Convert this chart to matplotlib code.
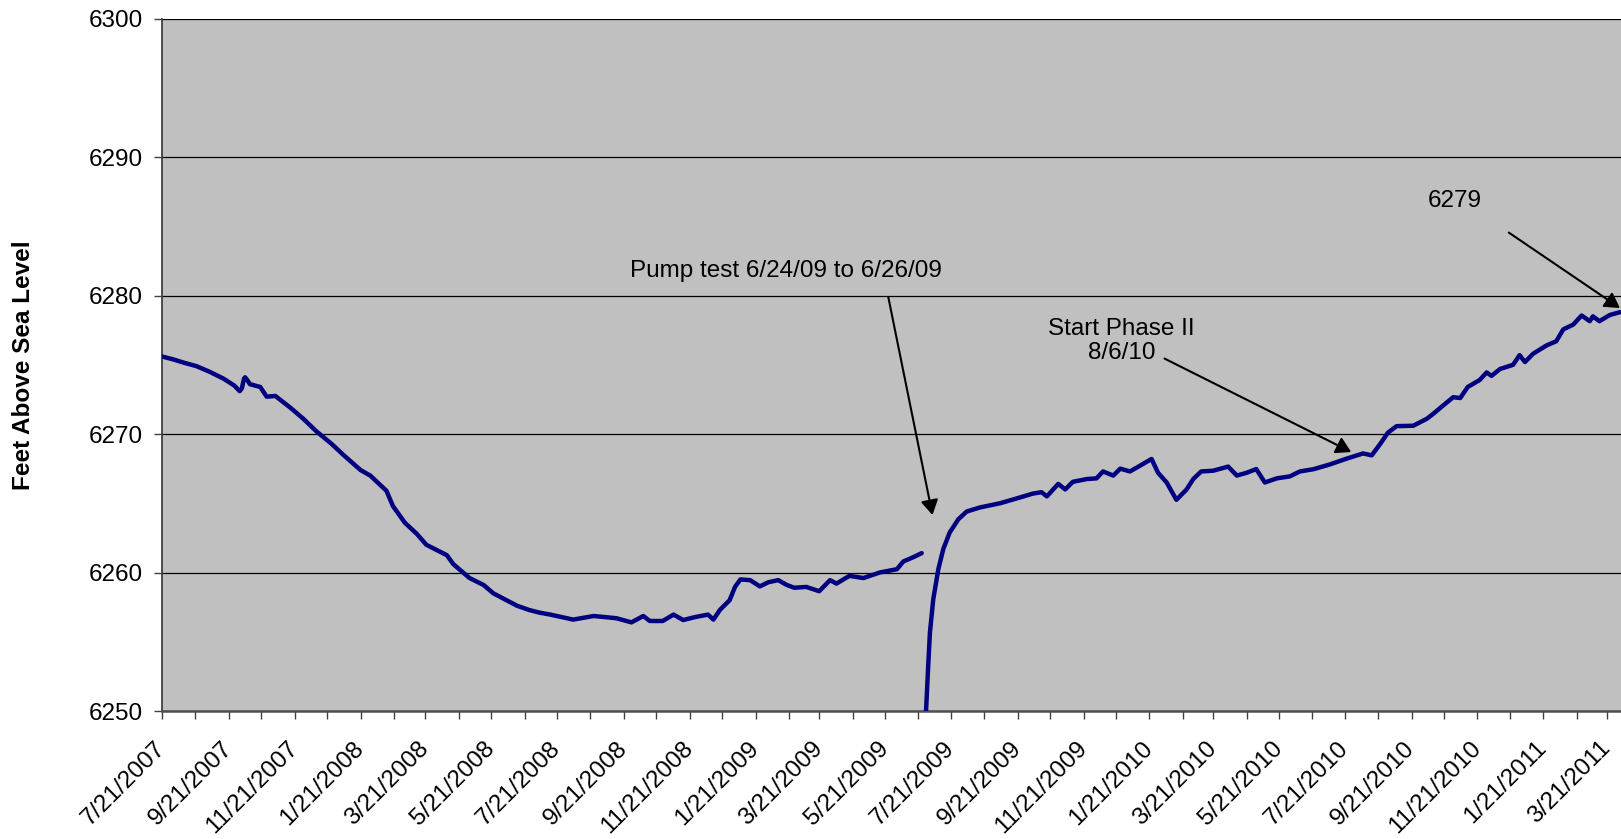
import matplotlib
matplotlib.use('Agg')
import matplotlib.pyplot as plt
import matplotlib.dates as mdates
from matplotlib.ticker import FuncFormatter
from datetime import datetime, timedelta

plt.rcParams['font.family'] = ['Liberation Sans', 'DejaVu Sans']

# ---------------- data ----------------
start_date = datetime(2007, 7, 21)
end_date = datetime(2011, 4, 3)

# water level before the pump test: days after 7/21/2007, feet above sea level
pre_days = [0, 10, 20, 32, 44, 57, 67, 72, 74, 76, 77, 79, 81.5, 91, 97, 105, 119,
            131, 143, 157, 168, 184, 193, 208, 214, 225, 236, 245, 264, 270, 285,
            298, 307, 329, 340, 350, 360, 381, 400, 421, 435, 446, 452, 464, 474,
            483, 495, 506, 511, 517, 526, 531, 536, 545, 554, 562, 571, 579, 586,
            597, 609, 619, 625, 637, 650, 665, 681, 687, 696, 704]
pre_level = [6275.6, 6275.4, 6275.16, 6274.9, 6274.5, 6274.0, 6273.5, 6273.1, 6273.3,
             6274.0, 6274.1, 6273.9, 6273.6, 6273.4, 6272.7, 6272.75, 6271.9, 6271.1,
             6270.2, 6269.3, 6268.5, 6267.4, 6267.0, 6265.9, 6264.8, 6263.6, 6262.8,
             6262.0, 6261.25, 6260.6, 6259.6, 6259.1, 6258.5, 6257.6, 6257.3, 6257.1,
             6256.96, 6256.6, 6256.86, 6256.7, 6256.4, 6256.86, 6256.5, 6256.5,
             6256.96, 6256.57, 6256.8, 6256.96, 6256.6, 6257.3, 6258.0, 6258.96,
             6259.5, 6259.45, 6259.0, 6259.3, 6259.45, 6259.1, 6258.9, 6258.96,
             6258.65, 6259.45, 6259.2, 6259.76, 6259.6, 6260.0, 6260.24, 6260.8,
             6261.1, 6261.4]

# water level after the pump test (recovery)
post_days = [707, 708, 710, 711.6, 714.7, 719.4, 724, 730, 738, 745.6, 758, 776.5,
             792, 807, 815, 820, 830.5, 837, 844, 857, 866, 872, 881.5, 888, 897,
             906, 917, 923, 931, 940, 949.5, 955.6, 963, 974, 988, 996, 1005, 1014,
             1022, 1033, 1045, 1054.5, 1067, 1082, 1098, 1113, 1121, 1129, 1136,
             1144, 1159.5, 1172, 1178, 1187, 1196.5, 1203, 1210, 1221, 1227.5, 1232,
             1240, 1252, 1258, 1263, 1270.6, 1283, 1292, 1298.5, 1307.7, 1315.5,
             1323, 1326, 1332, 1341.7, 1351]
post_level = [6244.0, 6250.0, 6253.25, 6255.66, 6258.07, 6260.24, 6261.7, 6262.9,
              6263.85, 6264.4, 6264.7, 6265.0, 6265.35, 6265.7, 6265.8, 6265.5,
              6266.4, 6266.0, 6266.55, 6266.75, 6266.8, 6267.3, 6267.0, 6267.5,
              6267.3, 6267.7, 6268.2, 6267.2, 6266.5, 6265.25, 6266.0, 6266.75,
              6267.3, 6267.35, 6267.65, 6267.0, 6267.2, 6267.47, 6266.5, 6266.8,
              6266.94, 6267.3, 6267.46, 6267.8, 6268.23, 6268.6, 6268.46, 6269.3,
              6270.1, 6270.57, 6270.6, 6271.1, 6271.46, 6272.05, 6272.66, 6272.6,
              6273.4, 6273.9, 6274.45, 6274.2, 6274.7, 6275.0, 6275.7, 6275.2,
              6275.8, 6276.4, 6276.7, 6277.56, 6277.9, 6278.56, 6278.15, 6278.5,
              6278.15, 6278.6, 6278.8]

y_ticks = [6250, 6260, 6270, 6280, 6290, 6300]

# annotations: text, text position (date, level), arrow tail, arrow head
ann_texts = ["Pump test 6/24/09 to 6/26/09", "Start Phase II\n8/6/10", "6279"]
ann_text_pos = [(datetime(2009, 2, 18), 6281.8), (datetime(2009, 12, 26), 6276.7),
                (datetime(2010, 10, 31), 6286.85)]
ann_tail = [(datetime(2009, 5, 24), 6279.9), (datetime(2010, 2, 4), 6275.45),
            (datetime(2010, 12, 20), 6284.55)]
ann_head = [(datetime(2009, 7, 4), 6264.15), (datetime(2010, 7, 27), 6268.7),
            (datetime(2011, 4, 2), 6279.1)]

# ---------------- figure ----------------
W, H = 1621, 839
fig = plt.figure(figsize=(W / 100, H / 100), dpi=100)
ax_left, ax_right, ax_top, ax_bottom = 162, 1621, 18.6, 711
ax = fig.add_axes([ax_left / W, 1 - ax_bottom / H, (ax_right - ax_left) / W,
                   (ax_bottom - ax_top) / H])
ax.set_facecolor('#C0C0C0')

pre_dates = [start_date + timedelta(days=float(d)) for d in pre_days]
post_dates = [start_date + timedelta(days=float(d)) for d in post_days]
line_kw = dict(color='#000080', lw=3.2, solid_joinstyle='round', solid_capstyle='round', zorder=3)
ax.plot(pre_dates, pre_level, **line_kw)
ax.plot(post_dates, post_level, **line_kw)

ax.set_xlim(start_date, end_date)
ax.set_ylim(y_ticks[0], y_ticks[-1])
ax.set_yticks(y_ticks)
ax.grid(axis='y', color='black', lw=0.9, zorder=1)
ax.set_axisbelow(True)

ax.xaxis.set_major_locator(mdates.MonthLocator(bymonth=[1, 3, 5, 7, 9, 11], bymonthday=21))
ax.xaxis.set_minor_locator(mdates.MonthLocator(bymonthday=21))


def fmt_date(x, pos=None):
    d = mdates.num2date(x)
    return f"{d.month}/{d.day}/{d.year}"


ax.xaxis.set_major_formatter(FuncFormatter(fmt_date))

for s in ['top', 'right']:
    ax.spines[s].set_visible(False)
ax.spines['left'].set_color('#404040')
ax.spines['left'].set_linewidth(1.3)
ax.spines['bottom'].set_color('#505050')
ax.spines['bottom'].set_linewidth(1.8)

ax.tick_params(axis='y', which='both', direction='out', length=5.5, width=1,
               color='#404040', labelsize=17.5, pad=8.5)
ax.tick_params(axis='x', which='both', direction='out', length=5.5, width=1,
               color='#404040')
ax.tick_params(axis='x', which='major', labelsize=17.5, pad=19)
for lab in ax.get_xticklabels():
    lab.set_rotation(45)
    lab.set_ha('right')
    lab.set_va('center')
    lab.set_rotation_mode('anchor')

fig.text(24 / W, 1 - ((ax_top + ax_bottom) / 2) / H, 'Feet Above Sea Level',
         rotation=90, ha='center', va='center', fontsize=17.5, fontweight='bold')

for txt, tp, tail, head in zip(ann_texts, ann_text_pos, ann_tail, ann_head):
    ax.text(tp[0], tp[1], txt, ha='center', va='center', fontsize=17.5,
            multialignment='center', linespacing=1.1, zorder=5)
    ax.annotate('', xy=head, xytext=tail,
                arrowprops=dict(arrowstyle='-|>,head_length=0.6,head_width=0.35',
                                color='black', lw=1.5, mutation_scale=15,
                                shrinkA=0, shrinkB=0), zorder=5, annotation_clip=False)

fig.savefig('out.png', dpi=100)
